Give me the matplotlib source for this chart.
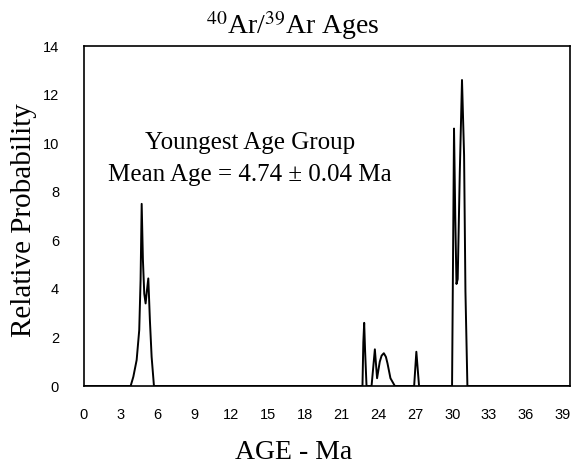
import numpy as np
import matplotlib
matplotlib.use("Agg")
import matplotlib.pyplot as plt

plt.rcParams['mathtext.fontset'] = 'stix'

# probability curve vertices (age in Ma, relative probability)
ages = [0, 3.80, 4.02, 4.29, 4.50, 4.61, 4.70, 4.80, 4.91, 5.02, 5.12, 5.24, 5.37, 5.51, 5.70,
        22.69, 22.76, 22.83, 22.90, 23.02,
        23.43, 23.70, 23.88, 24.10, 24.25, 24.43, 24.60, 24.73, 24.97, 25.33,
        26.90, 27.08, 27.30,
        29.99, 30.15, 30.25, 30.35, 30.45, 30.62, 30.80, 30.97, 31.08, 31.24, 39.6]
prob = [0, 0, 0.38, 1.07, 2.3, 4.36, 7.5, 5.2, 3.8, 3.4, 3.9, 4.43, 2.7, 1.2, 0,
        0, 1.8, 2.6, 1.5, 0,
        0, 1.51, 0.32, 1.0, 1.25, 1.35, 1.2, 0.93, 0.32, 0,
        0, 1.41, 0,
        0, 10.6, 7.0, 4.2, 4.4, 8.8, 12.6, 9.5, 3.9, 0, 0]

x_ticks = list(range(0, 40, 3))
y_ticks = list(range(0, 15, 2))

title = r'$^{40}$Ar/$^{39}$Ar Ages'
note_lines = ["Youngest Age Group", "Mean Age = 4.74 \u00b1 0.04 Ma"]

fig = plt.figure(figsize=(5.71, 4.67), dpi=100)
ax = fig.add_axes([84 / 571, 81 / 467, 486 / 571, 340 / 467])

ax.plot(ages, prob, color='black', lw=1.4)

ax.set_xlim(0, 39.6)
ax.set_ylim(0, 14)
ax.set_xticks(x_ticks)
ax.set_yticks(y_ticks)
ax.tick_params(length=0, labelsize=10.5)
ax.tick_params(axis='y', pad=18)
ax.tick_params(axis='x', pad=16)
for lab in ax.get_xticklabels() + ax.get_yticklabels():
    lab.set_fontfamily('Liberation Sans')
for sp in ax.spines.values():
    sp.set_linewidth(1.2)
    sp.set_color('black')

ax.text(13.5, 10.0, note_lines[0], ha='center', va='center',
        fontsize=18, family='Liberation Serif')
ax.text(13.5, 8.7, note_lines[1], ha='center', va='center',
        fontsize=18, family='Liberation Serif')

fig.text(293 / 571, 1 - 34 / 467, title, ha='center', va='baseline',
         fontsize=20, family='Liberation Serif')
fig.text(294 / 571, 1 - 459 / 467, "AGE - Ma", ha='center', va='baseline',
         fontsize=20, family='Liberation Serif')
fig.text(24 / 571, 1 - 220 / 467, "Relative Probability", ha='center', va='center',
         rotation=90, fontsize=21, family='Liberation Serif')

fig.savefig("out.png", dpi=100)
